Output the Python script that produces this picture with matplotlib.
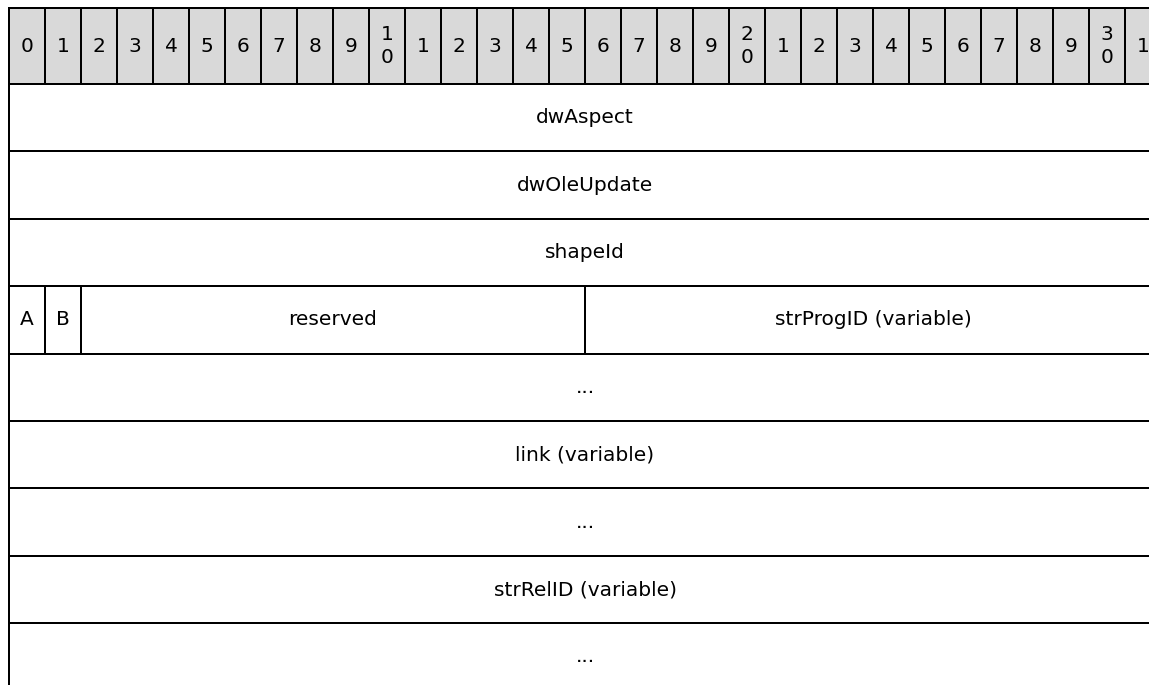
import matplotlib
matplotlib.use("Agg")
import matplotlib.pyplot as plt
from matplotlib.patches import Rectangle

# ---- data ----
header_labels = ["0", "1", "2", "3", "4", "5", "6", "7", "8", "9",
                 "1\n0", "1", "2", "3", "4", "5", "6", "7", "8", "9",
                 "2\n0", "1", "2", "3", "4", "5", "6", "7", "8", "9",
                 "3\n0", "1"]
row_fields = [
    ["dwAspect"],
    ["dwOleUpdate"],
    ["shapeId"],
    ["A", "B", "reserved", "strProgID (variable)"],
    ["..."],
    ["link (variable)"],
    ["..."],
    ["strRelID (variable)"],
    ["..."],
]
row_bits = [
    [32],
    [32],
    [32],
    [1, 1, 14, 16],
    [32],
    [32],
    [32],
    [32],
    [32],
]

# ---- layout (pixels) ----
W, H = 1149, 685
x0 = 9.0
col_w = 36.0
head_top = 8.0
head_bot = 84.0
row_h = 67.4
lw = 2.0 * 72 / 100
fs = 14.5

fig = plt.figure(figsize=(W / 100, H / 100), dpi=100)
ax = fig.add_axes([0, 0, 1, 1])
ax.set_xlim(0, W)
ax.set_ylim(H, 0)
ax.axis("off")

# header
for i, lab in enumerate(header_labels):
    ax.add_patch(Rectangle((x0 + i * col_w, head_top), col_w, head_bot - head_top,
                           facecolor="#d9d9d9", edgecolor="black", linewidth=lw))
    ax.text(x0 + i * col_w + col_w / 2, (head_top + head_bot) / 2, lab,
            ha="center", va="center", fontsize=fs, family="DejaVu Sans",
            linespacing=1.3, color="black")

# rows
for r, (names, bits) in enumerate(zip(row_fields, row_bits)):
    y = head_bot + r * row_h
    start = 0
    for name, b in zip(names, bits):
        xl = x0 + start * col_w
        w = b * col_w
        ax.add_patch(Rectangle((xl, y), w, row_h, facecolor="white",
                               edgecolor="black", linewidth=lw))
        ax.text(xl + w / 2, y + row_h / 2, name, ha="center", va="center",
                fontsize=fs, family="DejaVu Sans", color="black")
        start += b

fig.savefig("out.png", dpi=100)
